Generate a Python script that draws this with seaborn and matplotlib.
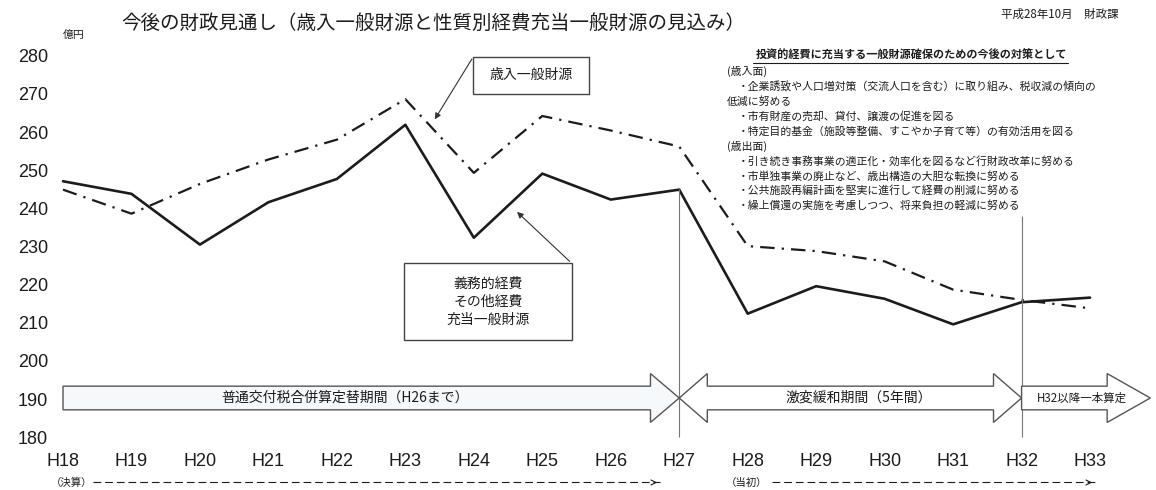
import matplotlib
matplotlib.use("Agg")
import matplotlib.pyplot as plt
import seaborn as sns
import pandas as pd
from matplotlib.patches import Polygon, Rectangle

# ---------------- data ----------------
years = ["H18", "H19", "H20", "H21", "H22", "H23", "H24", "H25",
         "H26", "H27", "H28", "H29", "H30", "H31", "H32", "H33"]
revenue = [244.9, 238.6, 246.4, 252.8, 258.0, 268.6, 249.3, 264.2,
           260.4, 256.2, 230.1, 228.8, 226.1, 218.7, 216.0, 213.8]   # 歳入一般財源
expense = [247.1, 243.8, 230.5, 241.6, 247.7, 261.9, 232.3, 249.1,
           242.3, 244.9, 212.4, 219.6, 216.3, 209.6, 215.4, 216.6]   # 義務的経費その他経費充当一般財源
yticks = [180, 190, 200, 210, 220, 230, 240, 250, 260, 270, 280]

period_labels = ["普通交付税合併算定替期間（H26まで）", "激変緩和期間（5年間）", "H32以降一本算定"]
period_start = [0, 9, 14]
period_end = [9, 14, 15.88]

title = "今後の財政見通し（歳入一般財源と性質別経費充当一般財源の見込み）"
date_note = "平成28年10月　財政課"
notes_head = "投資的経費に充当する一般財源確保のための今後の対策として"
notes = [("(歳入面)", 0),
         ("・企業誘致や人口増対策（交流人口を含む）に取り組み、税収減の傾向の", 1),
         ("低減に努める", 0),
         ("・市有財産の売却、貸付、譲渡の促進を図る", 1),
         ("・特定目的基金（施設等整備、すこやか子育て等）の有効活用を図る", 1),
         ("(歳出面)", 0),
         ("・引き続き事務事業の適正化・効率化を図るなど行財政改革に努める", 1),
         ("・市単独事業の廃止など、歳出構造の大胆な転換に努める", 1),
         ("・公共施設再編計画を堅実に進行して経費の削減に努める", 1),
         ("・繰上償還の実施を考慮しつつ、将来負担の軽減に努める", 1)]

df = pd.DataFrame({"idx": list(range(len(years))) * 2,
                   "value": revenue + expense,
                   "series": ["歳入一般財源"] * len(years) + ["充当一般財源"] * len(years)})

# ---------------- style ----------------
sns.set_theme(style="white")
plt.rcParams["font.family"] = ["Noto Sans CJK JP", "DejaVu Sans"]

W, H = 1156, 490
fig = plt.figure(figsize=(W / 100, H / 100), dpi=100)
fig.patch.set_facecolor("white")

ax_l, ax_r, ax_t, ax_b = 50, 1156, 40, 445
ax = fig.add_axes([ax_l / W, 1 - ax_b / H, (ax_r - ax_l) / W, (ax_b - ax_t) / H])
ax.set_facecolor("white")

def px2x(px):
    return (px - 63) / 68.47

def py2y(py):
    return 280 - (py - 55.7) / 3.816

ax.set_xlim(px2x(ax_l), px2x(ax_r))
ax.set_ylim(py2y(ax_b), py2y(ax_t))

ink = "#1c1c1c"
sns.lineplot(data=df[df.series == "充当一般財源"], x="idx", y="value", ax=ax,
             color=ink, lw=1.9, legend=False)
sns.lineplot(data=df[df.series == "歳入一般財源"], x="idx", y="value", ax=ax,
             color=ink, lw=1.6, linestyle=(0, (6.5, 3.2, 1.0, 3.2)), legend=False)

for s in ax.spines.values():
    s.set_visible(False)
ax.grid(False)

ax.set_xticks(range(len(years)))
ax.set_xticklabels(years, fontfamily="Liberation Sans", fontsize=13, color=ink)
ax.set_yticks(yticks)
ax.set_yticklabels([str(v) for v in yticks], fontfamily="Liberation Sans", fontsize=13, color=ink)
ax.tick_params(axis="x", length=0, pad=5.5)
ax.tick_params(axis="y", length=0, pad=1.5)
ax.set_xlabel("")
ax.set_ylabel("")

# vertical separators
ax.vlines([9], 180, 245, color="#777", lw=0.8)
ax.vlines([14], 180, 238, color="#777", lw=0.8)

# block arrows for periods
yc, sh, hh = 190.3, 3.1, 6.4
def block_arrow(x0, x1, hl, double=False, fc="white"):
    if double:
        pts = [(x0, yc), (x0 + hl, yc + hh), (x0 + hl, yc + sh), (x1 - hl, yc + sh),
               (x1 - hl, yc + hh), (x1, yc), (x1 - hl, yc - hh), (x1 - hl, yc - sh),
               (x0 + hl, yc - sh), (x0 + hl, yc - hh)]
    else:
        pts = [(x0, yc + sh), (x1 - hl, yc + sh), (x1 - hl, yc + hh), (x1, yc),
               (x1 - hl, yc - hh), (x1 - hl, yc - sh), (x0, yc - sh)]
    ax.add_patch(Polygon(pts, closed=True, fc=fc, ec="#555", lw=1.0, zorder=3))

block_arrow(period_start[0], period_end[0], 0.42, fc="#f6f9fc")
block_arrow(period_start[1], period_end[1], 0.41, double=True)
block_arrow(period_start[2], period_end[2], 0.63)
ax.text(4.12, yc, period_labels[0], ha="center", va="center", fontsize=10, color=ink, zorder=4)
ax.text(11.62, yc, period_labels[1], ha="center", va="center", fontsize=10, color=ink, zorder=4)
ax.text(14.88, yc, period_labels[2], ha="center", va="center", fontsize=8.3, color=ink, zorder=4)

# callout boxes
def box(px0, py0, px1, py1):
    x0, x1 = px2x(px0), px2x(px1)
    y0, y1 = py2y(py1), py2y(py0)
    ax.add_patch(Rectangle((x0, y0), x1 - x0, y1 - y0, fc="white", ec="#444", lw=1.0, zorder=3))
    return (x0 + x1) / 2, (y0 + y1) / 2

cx, cy = box(473.3, 56.7, 589.3, 94)
ax.text(cx, cy, "歳入一般財源", ha="center", va="center", fontsize=10, color=ink, zorder=4)
ax.annotate("", xy=(px2x(433.3), py2y(121.7)), xytext=(px2x(473.3), py2y(56.7)),
            arrowprops=dict(arrowstyle="-|>", color="#333", lw=0.8, mutation_scale=9), zorder=4)

cx, cy = box(404, 263.3, 571.7, 340)
ax.text(cx, cy, "義務的経費\nその他経費\n充当一般財源", ha="center", va="center",
        fontsize=10, color=ink, linespacing=1.35, zorder=4)
ax.annotate("", xy=(px2x(515), py2y(210)), xytext=(px2x(571.7), py2y(263.3)),
            arrowprops=dict(arrowstyle="-|>", color="#333", lw=0.8, mutation_scale=9), zorder=4)

# dashed period rows under axis
row_y = py2y(482.5)
ax.text(px2x(72), row_y, "（決算）", ha="center", va="center", fontsize=7.5, color=ink, clip_on=False)
ax.text(px2x(747), row_y, "（当初）", ha="center", va="center", fontsize=7.5, color=ink, clip_on=False)
for xa, xb in [(px2x(93), px2x(660)), (px2x(772), px2x(1095))]:
    ax.plot([xa, xb], [row_y, row_y], color=ink, lw=0.8, linestyle=(0, (7, 3.5)), clip_on=False)
    ax.annotate("", xy=(xb, row_y), xytext=(xb - 0.12, row_y), annotation_clip=False,
                arrowprops=dict(arrowstyle="->", color=ink, lw=0.8, mutation_scale=9))

# titles / notes
def fx(px):
    return px / W

def fy(py):
    return 1 - py / H

fig.text(fx(433), fy(23), title, ha="center", va="center", fontsize=14, color=ink)
fig.text(fx(1119), fy(14), date_note, ha="right", va="center", fontsize=8.3, color=ink)
fig.text(fx(74), fy(35), "億円", ha="center", va="center", fontsize=7.8, color=ink)

fig.text(fx(911), fy(55), notes_head, ha="center", va="center", fontsize=8, fontweight="bold", color=ink)
fig.add_artist(plt.Line2D([fx(753), fx(1068)], [fy(63), fy(63)], color=ink, lw=0.8))
for i, (line, lvl) in enumerate(notes):
    xpos = 738 if lvl == 1 else 726.7
    fig.text(fx(xpos), fy(71.7 + i * 14.9), line, ha="left", va="center", fontsize=7.8, color=ink)

fig.savefig("out.png", dpi=100, facecolor="white")
